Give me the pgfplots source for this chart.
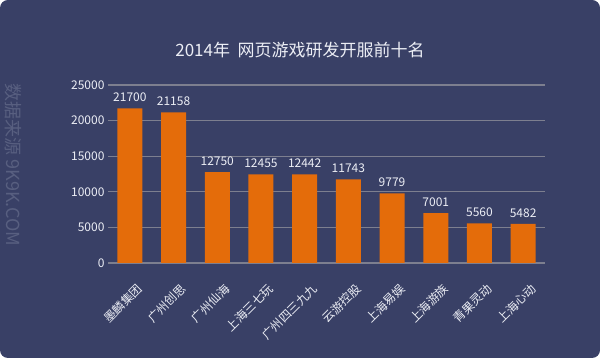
\documentclass[border=0pt]{standalone}
\usepackage{pgfplots}
\pgfplotsset{compat=1.18}
\usepackage{fontspec}
\setmainfont{Noto Sans CJK SC}
\definecolor{bg}{RGB}{57,64,102}
\definecolor{barc}{RGB}{228,108,10}
\definecolor{gridc}{RGB}{125,127,143}
\definecolor{txt}{RGB}{236,238,245}
\definecolor{wm}{RGB}{88,95,128}
\begin{document}
\begin{tikzpicture}[x=1pt,y=1pt]
\useasboundingbox (0pt,0pt) rectangle (600pt,358pt);
\fill[white] (0pt,0pt) rectangle (600pt,358pt);
\fill[bg, rounded corners=8pt] (0pt,0pt) rectangle (600pt,358pt);
\node[rotate=-90, text=wm, font=\fontsize{18}{18}\selectfont] at (13pt,193pt) {数据来源 9K9K.COM};
\node[text=txt, font=\fontsize{17}{20}\selectfont] at (300pt,308pt) {2014年\ \ 网页游戏研发开服前十名};
\begin{axis}[
  at={(108pt,95pt)}, anchor=south west,
  scale only axis, width=437pt, height=178pt,
  ybar, bar width=25pt,
  xmin=-0.5, xmax=9.5, ymin=0, ymax=25000,
  ytick={0,5000,10000,15000,20000,25000},
  scaled y ticks=false,
  /pgf/number format/assume math mode=true,
  /pgf/number format/1000 sep={},
  xtick={0,1,2,3,4,5,6,7,8,9},
  xticklabels={墨麟集团,广州创思,广州仙海,上海三七玩,广州四三九九,云游控股,上海易娱,上海游族,青果灵动,上海心动},
  xticklabel style={rotate=45, anchor=east, text=txt, font=\fontsize{12}{14}\selectfont, yshift=-24pt, xshift=-6pt},
  yticklabel style={text=txt, font=\fontsize{12}{14}\selectfont},
  axis line style={draw=none},
  major tick length=0pt,
  ymajorgrids, grid style={gridc, line width=1.3pt},
  nodes near coords,
  every node near coord/.append style={text=txt, font=\fontsize{12}{14}\selectfont, yshift=3pt},
  clip=false,
]
\addplot[fill=barc, draw=none] coordinates {(0,21700) (1,21158) (2,12750) (3,12455) (4,12442) (5,11743) (6,9779) (7,7001) (8,5560) (9,5482)};
\end{axis}
\end{tikzpicture}
\end{document}
